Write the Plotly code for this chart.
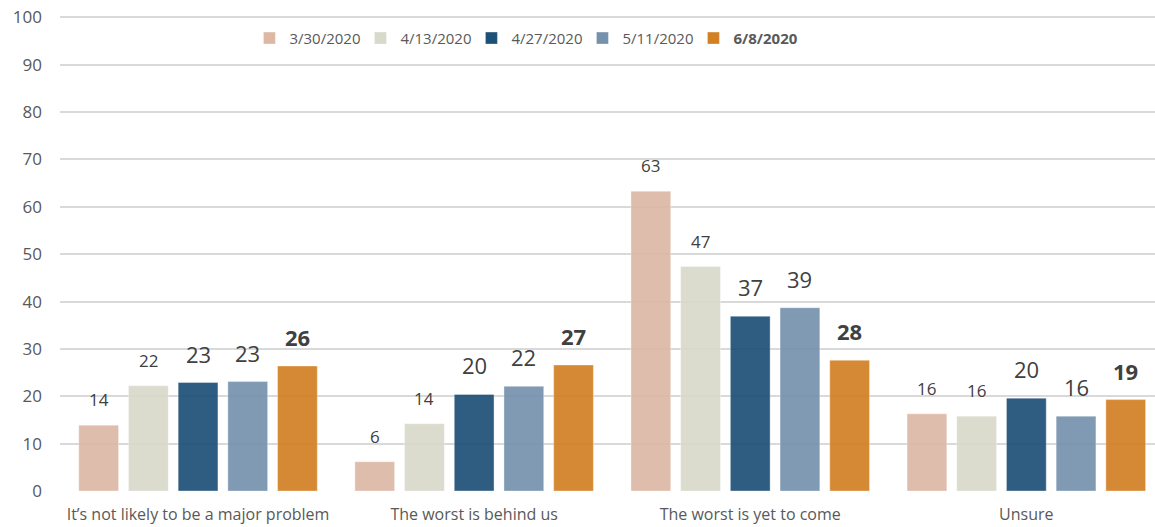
import plotly.graph_objects as go

categories = ["It’s not likely to be a major problem", "The worst is behind us",
              "The worst is yet to come", "Unsure"]
series_names = ["3/30/2020", "4/13/2020", "4/27/2020", "5/11/2020", "<b>6/8/2020</b>"]
values_0330 = [13.9, 6.2, 63.3, 16.3]
values_0413 = [22.2, 14.2, 47.4, 15.8]
values_0427 = [22.9, 20.4, 36.9, 19.6]
values_0511 = [23.1, 22.1, 38.7, 15.8]
values_0608 = [26.4, 26.6, 27.6, 19.3]
labels_0330 = ["14", "6", "63", "16"]
labels_0413 = ["22", "14", "47", "16"]
labels_0427 = ["23", "20", "37", "20"]
labels_0511 = ["23", "22", "39", "16"]
labels_0608 = ["26", "27", "28", "19"]
y_ticks = [0, 10, 20, 30, 40, 50, 60, 70, 80, 90, 100]

colors = ["#DDB8A5", "#D8D9CA", "#1D5077", "#7592AC", "#D38024"]
series_values = [values_0330, values_0413, values_0427, values_0511, values_0608]
series_labels = [labels_0330, labels_0413, labels_0427, labels_0511, labels_0608]
label_sizes = [17, 17, 22, 22, 22]
label_bold = [False, False, False, False, True]

BARGAP = 0.1
FONT = "Open Sans"

fig = go.Figure()
for name, vals, col in zip(series_names, series_values, colors):
    fig.add_trace(go.Bar(
        x=categories, y=vals, name=name,
        marker=dict(color=col, opacity=0.92,
                    line=dict(color="rgba(255,255,255,0.35)", width=1)),
        hoverinfo="skip",
    ))

n = len(series_names)
slot = (1 - BARGAP) / n
annotations = []
for i, (vals, labs) in enumerate(zip(series_values, series_labels)):
    off = -(1 - BARGAP) / 2 + (i + 0.5) * slot
    for j, (v, lab) in enumerate(zip(vals, labs)):
        txt = f"<b>{lab}</b>" if label_bold[i] else lab
        annotations.append(dict(
            x=j + off, y=v, xref="x", yref="y", text=txt, showarrow=False,
            yanchor="bottom", xanchor="center", yshift=12,
            font=dict(family=FONT, size=label_sizes[i], color="#404040"),
        ))

fig.update_layout(
    width=1155, height=527,
    margin=dict(l=60, r=0, t=15, b=36),
    paper_bgcolor="white", plot_bgcolor="white",
    barmode="group", bargap=BARGAP, bargroupgap=0.2,
    font=dict(family=FONT, color="#595959"),
    annotations=annotations,
    legend=dict(
        orientation="h", x=0.173, xanchor="left", y=0.951, yanchor="middle",
        font=dict(family=FONT, size=15, color="#595959"),
        bgcolor="rgba(255,255,255,0)", entrywidth=66, entrywidthmode="pixels",
        itemclick=False, itemdoubleclick=False,
    ),
    xaxis=dict(
        type="category", range=[-0.5, 3.466], showgrid=False, showline=False,
        ticks="", ticklabelstandoff=12, zeroline=False,
        tickfont=dict(family=FONT, size=16, color="#595959"),
    ),
    yaxis=dict(
        range=[0, 100.5], tickvals=y_ticks, showgrid=True, gridcolor="#D9D9D9",
        gridwidth=1.5, zeroline=False, showline=False, ticks="",
        ticklabelstandoff=17,
        tickfont=dict(family=FONT, size=17, color="#595959"),
    ),
)

fig.write_html("out.html", config={"displayModeBar": False},
               post_script="document.body.style.margin='0';")
